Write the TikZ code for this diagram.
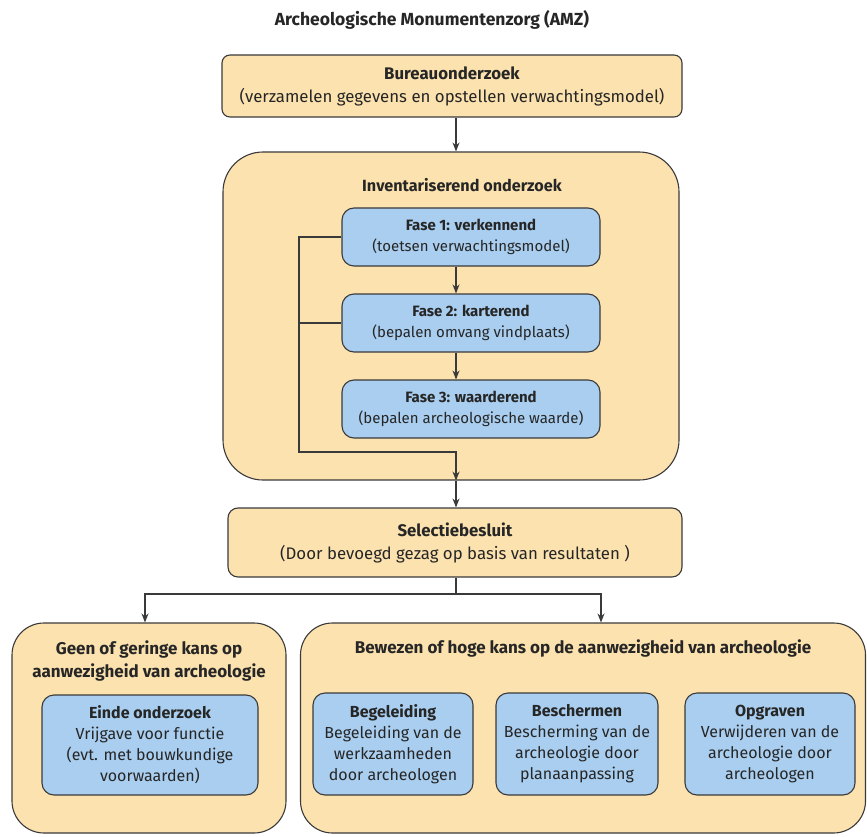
\documentclass[tikz,border=0pt]{standalone}
\usepackage{fontspec}
\setmainfont{Fira Sans}
\usetikzlibrary{positioning,arrows.meta}
\definecolor{oranjevak}{HTML}{FCE2AE}
\definecolor{blauwvak}{HTML}{A9CEEF}
\definecolor{lijn}{HTML}{3A3A3A}
\definecolor{tekst}{HTML}{262626}
\tikzset{
  vak/.style={draw=lijn, line width=1.1pt, align=center, inner sep=0pt, text=tekst,
    font=\fontsize{16.8}{23}\selectfont},
  oranje/.style={vak, fill=oranjevak},
  blauw/.style={vak, fill=blauwvak, rounded corners=12pt, font=\fontsize{15}{21}\selectfont},
  onderblauw/.style={blauw, font=\fontsize{16}{21}\selectfont},
  kop/.style={align=center, text=tekst, font=\bfseries\fontsize{17}{23}\selectfont},
  lijntje/.style={draw=lijn, line width=1.1pt},
  pijl/.style={lijntje, -{Stealth[length=9pt,width=7pt]}}
}
\begin{document}
\begin{tikzpicture}[x=1pt,y=-1pt]
\useasboundingbox (0,0) rectangle (867,837);
% as van de pijlen
\coordinate (as) at (456,0);
\node[kop, font=\bfseries\fontsize{17.5}{23}\selectfont] (amz) at (432,20) {Archeologische Monumentenzorg (AMZ)};
\node[oranje, rounded corners=8pt, minimum width=460, minimum height=62] (bureau) at (452,86)
  {\textbf{Bureauonderzoek}\\(verzamelen gegevens en opstellen verwachtingsmodel)};
% inventariserend onderzoek
\node[oranje, rounded corners=40pt, minimum width=456, minimum height=328] (inv) at (451,316) {};
\node[kop, font=\bfseries\fontsize{16.2}{23}\selectfont] (invkop) at (462,185) {Inventariserend onderzoek};
\node[blauw, minimum width=258, minimum height=58] (fase1) at (471,237)
  {\textbf{Fase 1: verkennend}\\(toetsen verwachtingsmodel)};
\node[blauw, minimum width=258, minimum height=58] (fase2) at (471,323)
  {\textbf{Fase 2: karterend}\\(bepalen omvang vindplaats)};
\node[blauw, minimum width=258, minimum height=58] (fase3) at (471,409)
  {\textbf{Fase 3: waarderend}\\(bepalen archeologische waarde)};
\coordinate (lus) at (299,452);
\draw[pijl] (bureau.south -| as) -- (inv.north -| as);
\draw[pijl] (fase1.south -| as) -- (fase2.north -| as);
\draw[pijl] (fase2.south -| as) -- (fase3.north -| as);
\draw[pijl] (fase1.west) -| (lus) -- (lus -| as) -- (inv.south -| as);
\draw[lijntje] (fase2.west) -- (fase2.west -| lus);
% selectiebesluit
\node[oranje, rounded corners=10pt, minimum width=454, minimum height=69] (selectie) at (455,542.5)
  {\textbf{Selectiebesluit}\\(Door bevoegd gezag op basis van resultaten )};
\draw[pijl] (inv.south -| as) -- (selectie.north -| as);
\coordinate (splits) at (456,594);
\coordinate (links) at (145,0);
\coordinate (rechts) at (601,0);
% uitkomsten
\node[oranje, rounded corners=32pt, minimum width=274, minimum height=210] (geen) at (149,728) {};
\node[oranje, rounded corners=32pt, minimum width=565, minimum height=210] (bewezen) at (583,728) {};
\draw[lijntje] (selectie.south -| as) -- (splits);
\draw[pijl] (splits) -| (links |- geen.north);
\draw[pijl] (splits) -| (rechts |- bewezen.north);
\node[kop] (geenkop) at (149,661) {Geen of geringe kans op\\aanwezigheid van archeologie};
\node[kop] (bewezenkop) at (583,648) {Bewezen of hoge kans op de aanwezigheid van archeologie};
\node[onderblauw, minimum width=216, minimum height=100] (einde) at (150,745)
  {\textbf{Einde onderzoek}\\Vrijgave voor functie\\(evt. met bouwkundige\\voorwaarden)};
\node[onderblauw, minimum width=160, minimum height=102] (begeleiding) at (393,744)
  {\textbf{Begeleiding}\\Begeleiding van de\\werkzaamheden\\door archeologen};
\node[onderblauw, minimum width=162, minimum height=102] (beschermen) at (577,744)
  {\textbf{Beschermen}\\Bescherming van de\\archeologie door\\planaanpassing};
\node[onderblauw, minimum width=170, minimum height=102] (opgraven) at (770,744)
  {\textbf{Opgraven}\\Verwijderen van de\\archeologie door\\archeologen};
\end{tikzpicture}
\end{document}
